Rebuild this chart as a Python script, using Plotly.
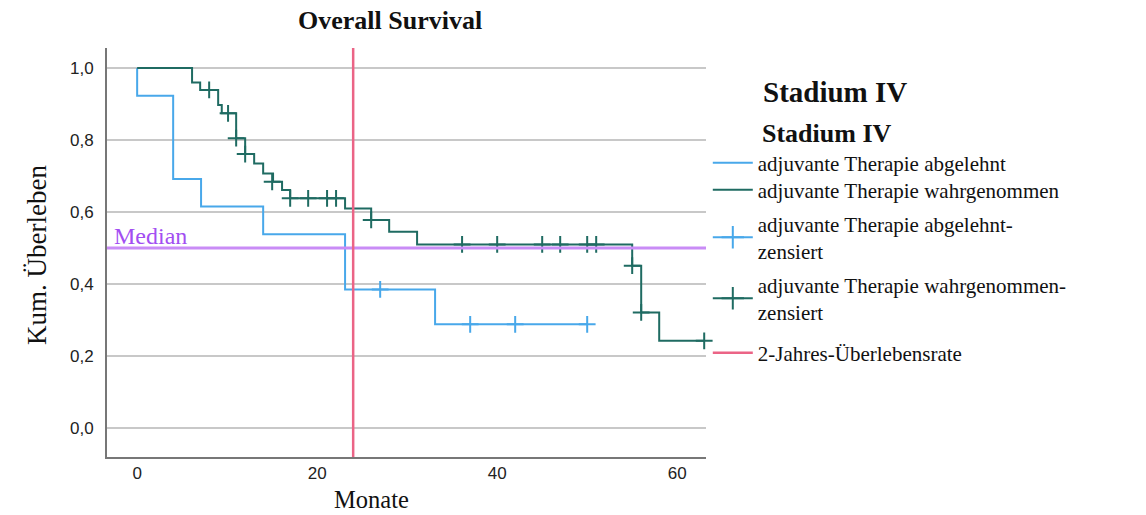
import plotly.graph_objects as go

# ---- data ----
# adjuvante Therapie abgelehnt (blue)
abg_t = [0, 0, 4.0, 7.1, 14.0, 23.1, 33.1, 50.0]
abg_s = [1.0, 0.923, 0.692, 0.615, 0.538, 0.385, 0.288, 0.288]
abg_cens_t = [27.0, 37.0, 42.0, 50.0]
abg_cens_s = [0.385, 0.288, 0.288, 0.288]

# adjuvante Therapie wahrgenommen (teal)
wahr_t = [0, 6.1, 7.0, 9.0, 9.4, 11.0, 12.0, 13.0, 14.0, 15.1, 16.1, 17.0,
          23.1, 26.0, 28.0, 31.1, 55.0, 56.0, 58.0, 63.0]
wahr_s = [1.0, 0.960, 0.939, 0.897, 0.874, 0.805, 0.761, 0.735, 0.707, 0.684,
          0.661, 0.638, 0.610, 0.578, 0.545, 0.510, 0.451, 0.321, 0.242, 0.242]
wahr_cens_t = [8.0, 10.1, 11.0, 12.0, 15.0, 17.0, 19.0, 21.1, 22.1, 26.0,
               36.1, 40.0, 45.0, 47.0, 50.0, 51.0, 55.0, 56.0, 63.0]
wahr_cens_s = [0.939, 0.874, 0.805, 0.761, 0.684, 0.638, 0.638, 0.638, 0.638,
               0.578, 0.510, 0.510, 0.510, 0.510, 0.510, 0.510, 0.451, 0.321, 0.242]

two_year = 24
median_val = 0.5

y_ticks = [0.0, 0.2, 0.4, 0.6, 0.8, 1.0]
y_ticktext = ["0,0", "0,2", "0,4", "0,6", "0,8", "1,0"]
x_ticks = [0, 20, 40, 60]

x_range = [-3.35, 63.2]
y_range = [-0.0806, 1.0556]

BLUE = "#48a8ea"
TEAL = "#1f6b62"
RED = "#eb6486"
PURPLE_LINE = "#c98cf6"
PURPLE_TEXT = "#a24ef2"
SERIF = "Liberation Serif"
SANS = "Liberation Sans"
INK = "#111111"

fig = go.Figure()

fig.add_trace(go.Scatter(x=abg_t, y=abg_s, mode="lines", line=dict(color=BLUE, width=2, shape="hv"),
                         name="adjuvante Therapie abgelehnt", legend="legend"))
fig.add_trace(go.Scatter(x=wahr_t, y=wahr_s, mode="lines", line=dict(color=TEAL, width=2, shape="hv"),
                         name="adjuvante Therapie wahrgenommen", legend="legend2"))

# censor markers (plot)
fig.add_trace(go.Scatter(x=abg_cens_t, y=abg_cens_s, mode="markers", showlegend=False, cliponaxis=False,
                         marker=dict(symbol="cross-thin", size=12, line=dict(color=BLUE, width=2))))
fig.add_trace(go.Scatter(x=wahr_cens_t, y=wahr_cens_s, mode="markers", showlegend=False, cliponaxis=False,
                         marker=dict(symbol="cross-thin", size=12, line=dict(color=TEAL, width=2))))
# censor legend entries
fig.add_trace(go.Scatter(x=[None], y=[None], mode="lines+markers", legend="legend3",
                         line=dict(color=BLUE, width=2),
                         marker=dict(symbol="cross-thin", size=16, line=dict(color=BLUE, width=2)),
                         name="adjuvante Therapie abgelehnt-<br>zensiert"))
fig.add_trace(go.Scatter(x=[None], y=[None], mode="lines+markers", legend="legend4",
                         line=dict(color=TEAL, width=2),
                         marker=dict(symbol="cross-thin", size=16, line=dict(color=TEAL, width=2)),
                         name="adjuvante Therapie wahrgenommen-<br>zensiert"))

# median line
fig.add_trace(go.Scatter(x=x_range, y=[median_val, median_val], mode="lines", showlegend=False,
                         line=dict(color=PURPLE_LINE, width=3)))
# 2-year line
fig.add_trace(go.Scatter(x=[two_year, two_year], y=y_range, mode="lines", legend="legend5",
                         line=dict(color=RED, width=2.5), name="2-Jahres-Überlebensrate"))

legend_common = dict(font=dict(family=SERIF, size=21, color=INK), itemwidth=40,
                     bgcolor="rgba(0,0,0,0)", tracegroupgap=0, xanchor="left", yanchor="middle",
                     x=1.003)

fig.update_layout(
    width=1146, height=515,
    margin=dict(l=107, r=440, t=48, b=58),
    plot_bgcolor="white", paper_bgcolor="white",
    showlegend=True,
    legend=dict(y=0.7188, **legend_common),
    legend2=dict(y=0.6528, **legend_common),
    legend3=dict(y=0.5367, **legend_common),
    legend4=dict(y=0.3875, **legend_common),
    legend5=dict(y=0.2543, **legend_common),
    xaxis=dict(range=x_range, tickvals=x_ticks, showgrid=False, zeroline=False,
               showline=True, linecolor="#777777", linewidth=2, ticks="",
               tickfont=dict(family=SANS, size=17, color="#222222")),
    yaxis=dict(range=y_range, tickvals=y_ticks, ticktext=y_ticktext, showgrid=True,
               gridcolor="#c8c8c8", gridwidth=2, zeroline=False,
               showline=True, linecolor="#777777", linewidth=2, ticks="",
               ticklabelstandoff=8,
               tickfont=dict(family=SANS, size=17, color="#222222")),
)

fig.add_annotation(text="<b>Overall Survival</b>", xref="paper", yref="paper", x=0.4725, y=1.068,
                   xanchor="center", yanchor="middle",
                   showarrow=False, font=dict(family=SERIF, size=26, color=INK))
fig.add_annotation(text="Monate", xref="paper", yref="paper", x=0.4424, y=-0.105,
                   xanchor="center", yanchor="middle",
                   showarrow=False, font=dict(family=SERIF, size=24.5, color=INK))
fig.add_annotation(text="Kum. Überleben", xref="paper", yref="paper", x=-0.1169, y=0.494,
                   xanchor="center", yanchor="middle",
                   textangle=-90, showarrow=False, font=dict(family=SERIF, size=27, color=INK))
fig.add_annotation(text="<b>Stadium IV</b>", xref="paper", yref="paper", x=1.215, y=0.892,
                   xanchor="center", yanchor="middle",
                   showarrow=False, font=dict(family=SERIF, size=29, color=INK))
fig.add_annotation(text="<b>Stadium IV</b>", xref="paper", yref="paper", x=1.0902, y=0.792,
                   xanchor="left", yanchor="middle",
                   showarrow=False, font=dict(family=SERIF, size=26, color=INK))
fig.add_annotation(text="Median", xref="paper", yref="y", x=0.008, y=median_val, xanchor="left",
                   yanchor="bottom", yshift=-3, showarrow=False,
                   font=dict(family=SERIF, size=24, color=PURPLE_TEXT))

fig.write_html("out.html")
